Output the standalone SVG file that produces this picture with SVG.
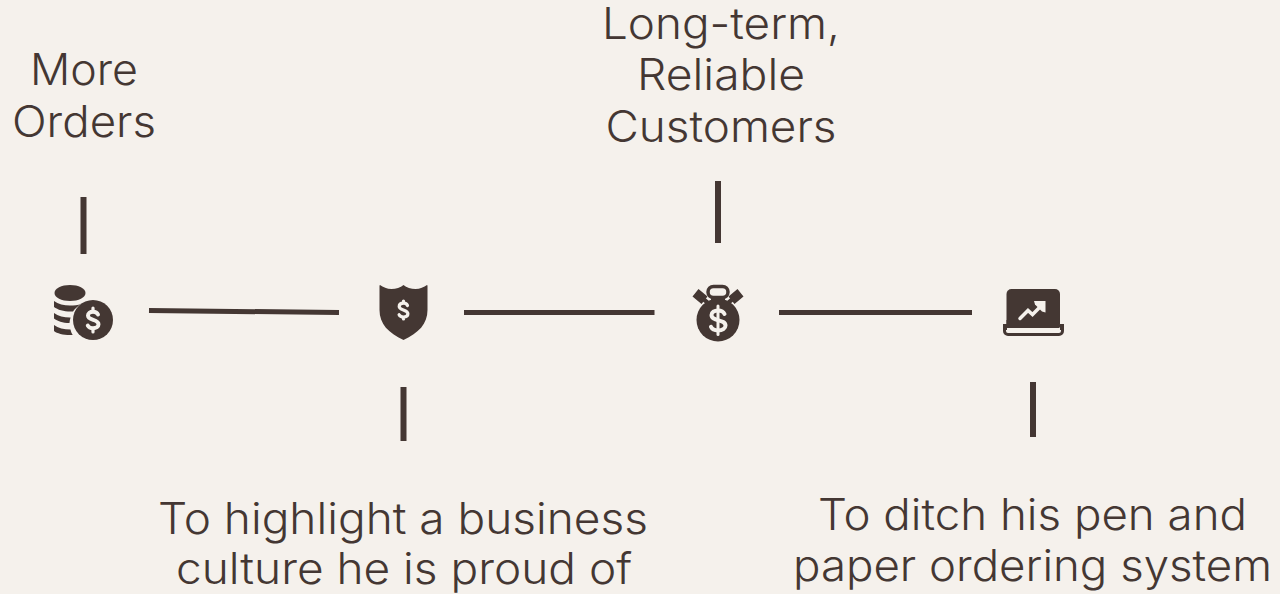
<svg xmlns="http://www.w3.org/2000/svg" width="1280" height="594" viewBox="0 0 1280 594">
<style>
.t{font-family:"Inter","Liberation Sans",sans-serif;font-weight:300;font-size:43px;fill:#443733;text-anchor:middle}
.c{stroke:#443733;fill:none}
.i{fill:#443733}
.d{fill:none;stroke:#f5f1ec;stroke-linecap:round}
</style>
<rect width="1280" height="594" fill="#f5f1ec"/>
<g id="connectors">
<path class="c" stroke-width="5" d="M149 310.500L339 312.500M464 312.500H654.500M779 312.500H972"/>
<path class="c" stroke-width="6" d="M83.500 197V254M403.500 387V441M718 181V243M1033 382V437"/>
</g>
<g id="node-coins">
<path class="i" d="M54.500 293c0-4.500 7-8 15.500-8s15.500 3.500 15.500 8-7 8-15.500 8-15.500-3.500-15.500-8z"/>
<path class="i" d="M54 301c4 3 10 4.500 16 4.500 4 0 8-.5 11-1.500-3 2-6 4.500-8 7.500-8 .5-15-1.500-19-4.500zM54 313c4 3 10 4.500 16 4.500h.6c-.6 1.700-1 3.500-1.100 5.500-7 0-12-2-15.500-4.500zM54 325c4 3 10 4.500 16.500 4.500 .4 2 1.200 4 2.200 5.500H70c-7 0-13-1.500-16-4z"/>
<circle class="i" cx="93" cy="320" r="20"/>
<path class="d" stroke-width="4" d="M98 314.500c-.8-1.700-2.700-2.700-5-2.700-3 0-5 1.500-5 3.700 0 5.500 10.500 3.200 10.500 8.800 0 2.400-2.300 3.900-5.500 3.900-2.400 0-4.300-.9-5.200-2.600"/>
<path class="d" stroke-width="3.200" d="M93 308v3M93 329v3"/>
<text class="t" x="84" y="85" textLength="108" lengthAdjust="spacingAndGlyphs">More</text>
<text class="t" x="84" y="137" textLength="144" lengthAdjust="spacingAndGlyphs">Orders</text>
</g>
<g id="node-shield">
<path class="i" d="M380 285c3 2 7 4 11.500 4 4.500 0 9-1.500 12-4 3 2.500 7.500 4 12 4s8.500-2 11.500-4c.5 0 .5 1 .5 1v24c0 14-9 23-24 30-15-7-24-16-24-30v-24c0-1 .5-1 .5-1z"/>
<path class="d" stroke-width="3.200" d="M407.500 305.500c-.7-1.500-2.200-2.300-4-2.300-2.600 0-4.300 1.400-4.300 3.300 0 4.200 8.700 2.700 8.700 7.300 0 2-1.800 3.200-4.400 3.200-2 0-3.600-.8-4.400-2.300M403.500 301v2M403.500 317v2"/>
<text class="t" x="403" y="534" textLength="490" lengthAdjust="spacingAndGlyphs">To highlight a business</text>
<text class="t" x="404" y="584" textLength="456" lengthAdjust="spacingAndGlyphs">culture he is proud of</text>
</g>
<g id="node-stopwatch">
<circle class="i" cx="718" cy="320" r="21.500"/>
<rect x="708" y="286.500" width="20" height="11" rx="5.500" fill="none" stroke="#443733" stroke-width="3.500"/>
<path class="i" d="M698.500 289l9 7.500-6 7.500-9-7.500zM737.500 289l6 7.500-9 7.500-6-7.500z"/>
<path class="i" d="M703 296l6 5-3 3-5-4zM733 296l-6 5 3 3 5-4z"/>
<path class="i" d="M711 297h14v4h-14z"/>
<path class="d" stroke-width="4" d="M724.500 314c-1-2.300-3.400-3.500-6.500-3.500-3.700 0-6.500 1.800-6.500 4.600 0 6.700 14 3.800 14 10.500 0 2.900-3 4.800-7.500 4.800-3.300 0-5.900-1.200-7-3.500"/>
<path class="d" stroke-width="3" d="M718 306V334.500"/>
<text class="t" x="721" y="39" textLength="238" lengthAdjust="spacingAndGlyphs">Long-term,</text>
<text class="t" x="721" y="90" textLength="168" lengthAdjust="spacingAndGlyphs">Reliable</text>
<text class="t" x="721" y="142" textLength="231" lengthAdjust="spacingAndGlyphs">Customers</text>
</g>
<g id="node-laptop">
<path class="i" d="M1006.500 324V294a5 5 0 0 1 5-5h43.500a5 5 0 0 1 5 5v30z"/>
<rect x="1004.500" y="325.500" width="58" height="9" rx="3.500" fill="#f5f1ec" stroke="#443733" stroke-width="3"/>
<path class="i" d="M1006.500 320h53v8h-53z"/>
<path class="i" d="M1003 324h4v6h-4zM1060 324h4v6h-4z"/>
<path class="d" stroke-width="3.500" d="M1020 318.500l8-8 4.500 4 8-8"/>
<path fill="#f5f1ec" d="M1034 301h11.500v11.500l-3.500-1-7-7z"/>
<text class="t" x="1032.500" y="530" textLength="429" lengthAdjust="spacingAndGlyphs">To ditch his pen and</text>
<text class="t" x="1032.500" y="581" textLength="479" lengthAdjust="spacingAndGlyphs">paper ordering system</text>
</g>
</svg>
